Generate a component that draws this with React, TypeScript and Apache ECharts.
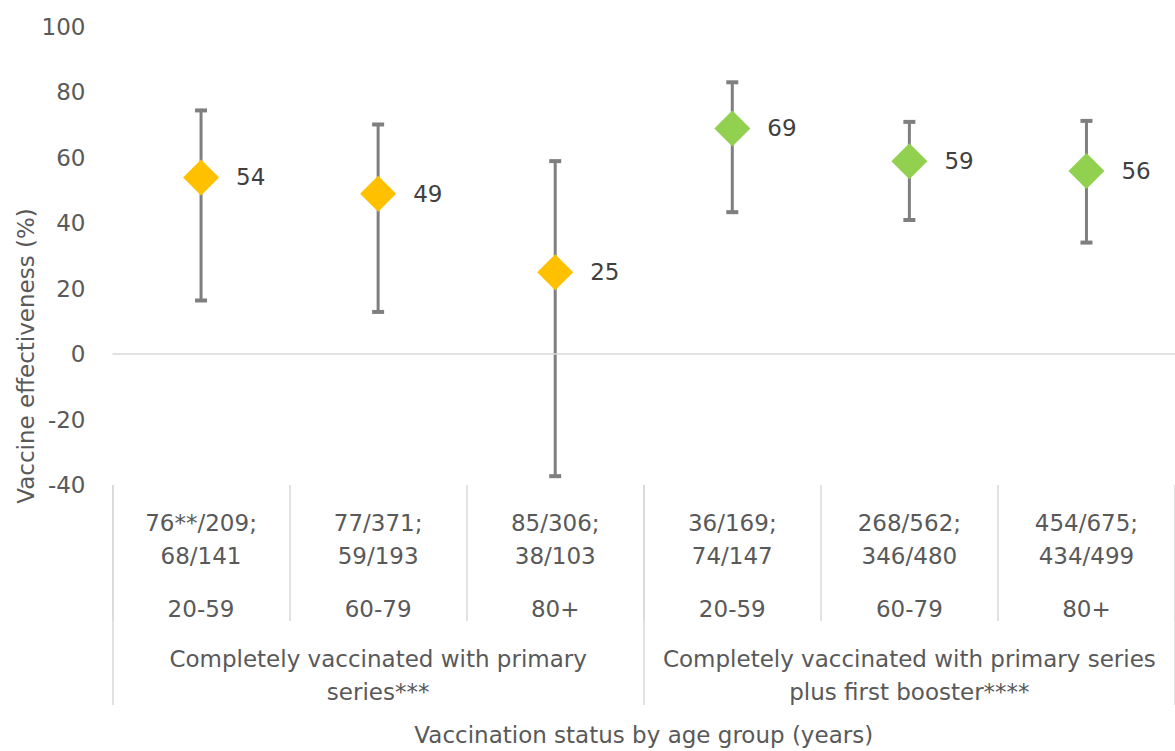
import React, { useEffect, useRef } from "react";
import * as echarts from "echarts";

// ---- data ----
const ageGroups = ["20-59", "60-79", "80+", "20-59", "60-79", "80+"];
const countsLine1 = ["76**/209;", "77/371;", "85/306;", "36/169;", "268/562;", "454/675;"];
const countsLine2 = ["68/141", "59/193", "38/103", "74/147", "346/480", "434/499"];
const statusGroups = [
  "Completely vaccinated with primary\nseries***",
  "Completely vaccinated with primary series\nplus first booster****",
];
const groupOfCategory = [0, 0, 0, 1, 1, 1];
const estimates = [54, 49, 25, 69, 59, 56];
const lowerCI = [16.4, 12.9, -37.3, 43.4, 41, 34.1];
const upperCI = [74.5, 70.2, 59, 83.1, 71, 71.3];
const yTicks = { min: -40, max: 100, interval: 20 };

const FONT = '"DejaVu Sans", Verdana, sans-serif';
const FS = 23;
const groupColors = ["#FFC000", "#92D050"];

export default function App() {
  const ref = useRef<HTMLDivElement>(null);
  useEffect(() => {
    if (!ref.current) return;
    const chart = echarts.init(ref.current, null, { renderer: "svg" });
    const catIdx = ageGroups.map((_, i) => String(i));
    const option: any = {
      animation: false,
      textStyle: { fontFamily: FONT },
      grid: { left: 112.5, right: -7, top: 27, bottom: 261, containLabel: false },
      xAxis: [
        {
          type: "category",
          data: catIdx,
          position: "bottom",
          boundaryGap: true,
          axisLine: { show: false, onZero: false },
          axisTick: { show: true, interval: 0, length: 136, lineStyle: { color: "#d9d9d9", width: 1.5 } },
          axisLabel: {
            interval: 0,
            margin: 22,
            formatter: (_v: string, i: number) =>
              `{a|${countsLine1[i]}}\n{a|${countsLine2[i]}}\n{b|${ageGroups[i]}}`,
            rich: {
              a: { fontSize: FS, lineHeight: 32.6, color: "#595959", fontFamily: FONT },
              b: { fontSize: FS, lineHeight: 73, color: "#595959", fontFamily: FONT },
            },
          },
          splitLine: { show: false },
        },
        {
          type: "category",
          data: ["0", "1"],
          position: "bottom",
          boundaryGap: true,
          axisLine: { show: false, onZero: false },
          axisTick: { show: true, interval: 0, length: 220, lineStyle: { color: "#d9d9d9", width: 1.5 } },
          axisLabel: {
            interval: 0,
            margin: 158,
            formatter: (_v: string, i: number) => statusGroups[i],
            fontSize: FS,
            lineHeight: 32.5,
            color: "#595959",
            fontFamily: FONT,
          },
          name: "Vaccination status by age group (years)",
          nameLocation: "middle",
          nameGap: 238,
          nameTextStyle: { fontSize: FS, color: "#595959", fontFamily: FONT },
          splitLine: { show: false },
        },
      ],
      yAxis: {
        type: "value",
        min: yTicks.min,
        max: yTicks.max,
        interval: yTicks.interval,
        axisLine: { show: false },
        axisTick: { show: false },
        splitLine: { show: false },
        axisLabel: { fontSize: FS, color: "#595959", margin: 27, fontFamily: FONT },
      },
      graphic: [
        {
          type: "text",
          x: 26,
          y: 356,
          rotation: Math.PI / 2,
          style: {
            text: "Vaccine effectiveness (%)",
            font: `${FS}px ${FONT}`,
            fill: "#595959",
            textAlign: "center",
            textVerticalAlign: "middle",
          },
        },
      ],
      series: [
        {
          type: "custom",
          xAxisIndex: 0,
          z: 1,
          data: ageGroups.map((_, i) => [i, lowerCI[i], upperCI[i]]),
          encode: { x: 0, y: [1, 2] },
          renderItem: (_params: any, api: any) => {
            const x = api.value(0);
            const lo = api.coord([x, api.value(1)]);
            const hi = api.coord([x, api.value(2)]);
            const half = 6;
            const stroke = "#7f7f7f";
            return {
              type: "group",
              children: [
                { type: "line", shape: { x1: lo[0], y1: lo[1], x2: hi[0], y2: hi[1] }, style: { stroke, lineWidth: 3 } },
                { type: "line", shape: { x1: lo[0] - half, y1: lo[1], x2: lo[0] + half, y2: lo[1] }, style: { stroke, lineWidth: 4 } },
                { type: "line", shape: { x1: hi[0] - half, y1: hi[1], x2: hi[0] + half, y2: hi[1] }, style: { stroke, lineWidth: 4 } },
              ],
            };
          },
        },
        {
          type: "scatter",
          xAxisIndex: 0,
          z: 3,
          symbol: "diamond",
          symbolSize: 36,
          data: estimates.map((v, i) => ({
            value: [i, v],
            itemStyle: { color: groupColors[groupOfCategory[i]], opacity: 1 },
          })),
          label: {
            show: true,
            position: "right",
            distance: 17,
            fontSize: FS,
            color: "#404040",
            fontFamily: FONT,
            formatter: (p: any) => String(p.value[1]),
          },
          emphasis: { disabled: true },
          markLine: {
            silent: true,
            symbol: "none",
            label: { show: false },
            lineStyle: { color: "#d9d9d9", width: 1.5, type: "solid" },
            data: [{ yAxis: 0 }],
          },
        },
      ],
    };
    chart.setOption(option);
    return () => chart.dispose();
  }, []);
  return (
    <div
      ref={ref}
      style={{ position: "fixed", left: 0, top: 0, width: 1175, height: 751, background: "#fff" }}
    />
  );
}
